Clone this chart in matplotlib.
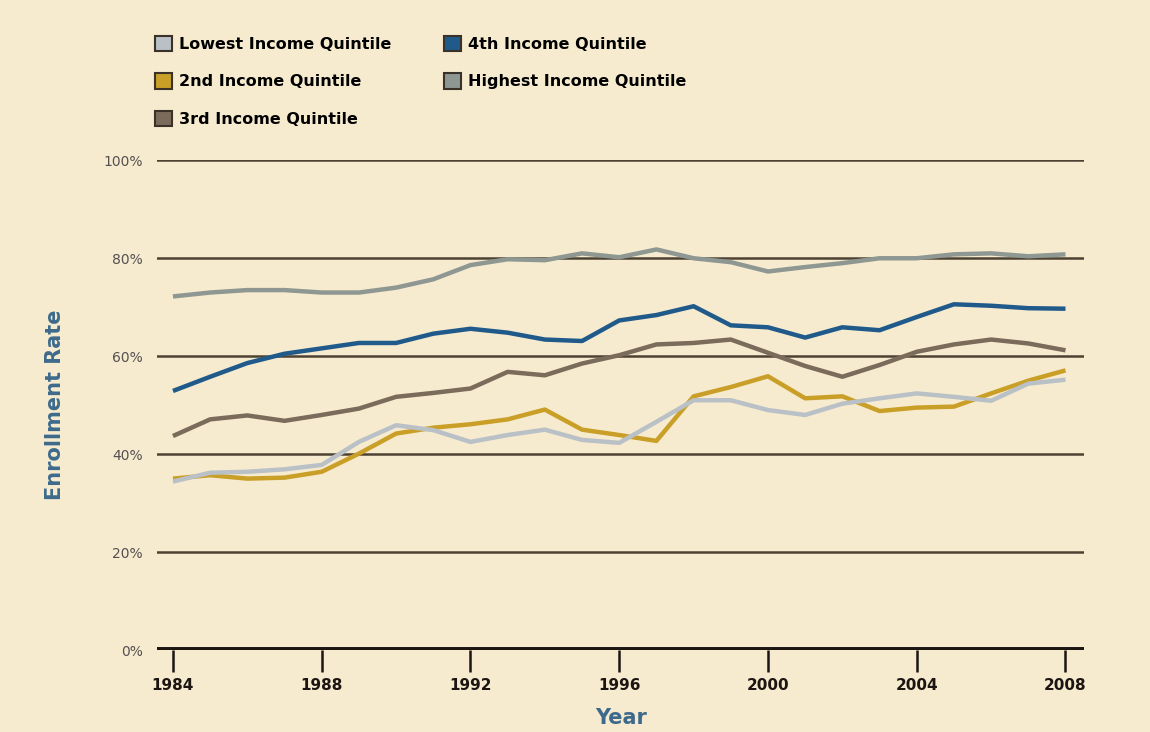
import matplotlib.pyplot as plt
from matplotlib.patches import Patch

years = list(range(1984, 2009))

lowest = [34.4, 36.2, 36.4, 36.9, 37.8, 42.5, 45.9, 44.9, 42.5, 43.9, 45.0, 42.9, 42.3,
          46.6, 51.0, 51.0, 49.0, 48.0, 50.3, 51.4, 52.4, 51.7, 50.9, 54.4, 55.2]
second = [35.0, 35.7, 35.0, 35.2, 36.4, 40.1, 44.2, 45.4, 46.1, 47.1, 49.1, 45.0, 43.9,
          42.7, 51.8, 53.7, 55.9, 51.4, 51.8, 48.8, 49.5, 49.7, 52.4, 55.0, 57.1]
third = [43.7, 47.1, 47.9, 46.8, 48.0, 49.3, 51.7, 52.5, 53.4, 56.8, 56.1, 58.5, 60.2,
         62.4, 62.7, 63.4, 60.7, 58.0, 55.8, 58.2, 60.9, 62.4, 63.4, 62.6, 61.2]
fourth = [52.9, 55.8, 58.6, 60.5, 61.6, 62.7, 62.7, 64.6, 65.6, 64.8, 63.4, 63.1, 67.3,
          68.4, 70.2, 66.3, 65.9, 63.8, 65.9, 65.3, 68.0, 70.6, 70.3, 69.8, 69.7]
highest = [72.2, 73.0, 73.5, 73.5, 73.0, 73.0, 74.0, 75.7, 78.6, 79.8, 79.6, 81.0, 80.2,
           81.8, 80.0, 79.2, 77.3, 78.2, 79.0, 80.0, 80.0, 80.8, 81.0, 80.4, 80.8]

names = ["Lowest Income Quintile", "2nd Income Quintile", "3rd Income Quintile",
         "4th Income Quintile", "Highest Income Quintile"]
colors = ["#b9c0c6", "#c99f27", "#7a6b5a", "#1f5a8a", "#8e9792"]
series = [lowest, second, third, fourth, highest]

bg = "#f6ebcf"
grid_c = "#4d4232"
blue_txt = "#3d6a8c"

fig = plt.figure(figsize=(11.5, 7.32), dpi=100, facecolor=bg)
ax = fig.add_axes([0.1365, 0.112, 0.8065, 0.669])
ax.set_facecolor(bg)
ax.set_xlim(1983.57, 2008.51)
ax.set_ylim(0, 100)

for v in [20, 40, 60, 80, 100]:
    ax.axhline(v, color=grid_c, lw=1.8, zorder=1)
ax.axhline(0, color="#1c1512", lw=5, zorder=5)

# highest first so the low quintiles sit on top
for i in [4, 3, 2, 1, 0]:
    ax.plot(years, series[i], color=colors[i], lw=3.2, zorder=3, solid_capstyle="butt")

for s in ax.spines.values():
    s.set_visible(False)

ax.set_xticks(range(1984, 2009, 4))
ax.tick_params(axis="x", direction="out", length=16, width=1.8, color="#1c1512",
               labelsize=11, pad=4)
for lab in ax.get_xticklabels():
    lab.set_fontweight("bold")
    lab.set_color("#1c1512")

ax.set_yticks([0, 20, 40, 60, 80, 100])
ax.set_yticklabels(["0%", "20%", "40%", "60%", "80%", "100%"])
ax.tick_params(axis="y", length=0, labelsize=10, labelcolor="#555050", pad=10)

ax.set_xlabel("Year", fontsize=15, fontweight="bold", color=blue_txt, labelpad=11)
ax.set_ylabel("Enrollment Rate", fontsize=15, fontweight="bold", color=blue_txt, labelpad=28)

handles = [Patch(facecolor=c, edgecolor="#3a3128", linewidth=1.5) for c in colors]
fig.legend(handles, names, ncol=2, loc="upper left", bbox_to_anchor=(0.122, 0.971),
           frameon=False, handlelength=1.1, handleheight=1.1,
           handletextpad=0.4, columnspacing=3.3, labelspacing=1.35,
           prop={"weight": "bold", "size": 11.5})

fig.savefig("out.png", dpi=100, facecolor=bg)
